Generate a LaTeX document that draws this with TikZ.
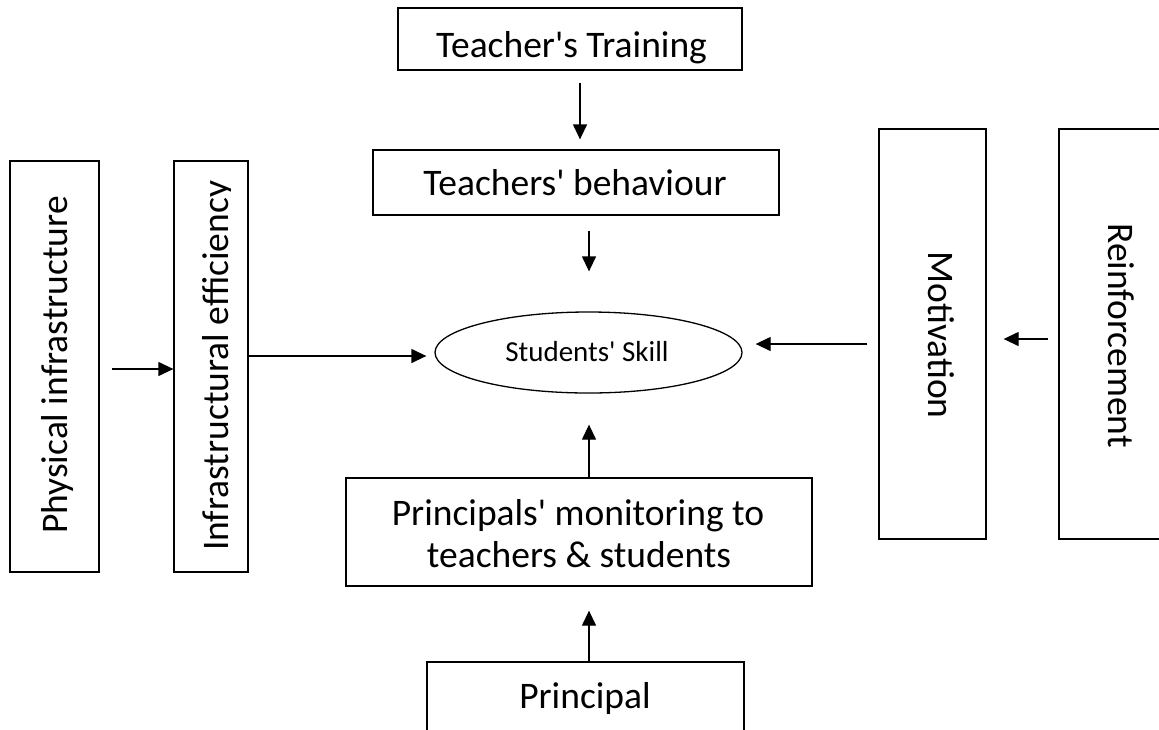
\documentclass[tikz,border=0pt]{standalone}
\usepackage{fontspec}
\setmainfont{Carlito}
\usetikzlibrary{arrows.meta,calc,shapes.geometric}
\begin{document}
\begin{tikzpicture}[x=1pt,y=-1pt,
  boxnode/.style={draw, line width=1.3pt, inner sep=0pt, minimum width=#1},
  txt/.style={anchor=base, inner sep=0pt, font=\fontsize{37.5}{40}\selectfont},
  smalltxt/.style={anchor=base, inner sep=0pt, font=\fontsize{29}{32}\selectfont},
  arr/.style={line width=1.3pt, -{Triangle[length=15pt,width=14pt]}}
]
\useasboundingbox (0,0) rectangle (1159,729);
\fill[white] (0,0) rectangle (1159,729);

% boxes
\node[boxnode=344pt, minimum height=62pt] (train) at (570,39) {};
\node[boxnode=406pt, minimum height=65pt] (behav) at (576,182.5) {};
\node[draw, line width=1.3pt, ellipse, inner sep=0pt, minimum width=307pt, minimum height=81pt] (skill) at (588.5,352.5) {};
\node[boxnode=89pt, minimum height=411pt] (phys) at (54.5,366.5) {};
\node[boxnode=74pt, minimum height=411pt] (infra) at (211,366.5) {};
\node[boxnode=107pt, minimum height=410pt] (motiv) at (932.5,334) {};
\node[boxnode=116pt, minimum height=410pt] (reinf) at (1117,334) {};
\node[boxnode=466pt, minimum height=108pt] (mon) at (579,532) {};
\node[boxnode=317pt, minimum height=98pt] (princ) at (585.5,711) {};

% texts
\node[txt] (ttrain) at (571.5,57) {Teacher\textquotesingle s Training};
\node[txt] (tbehav) at (575,195) {Teachers\textquotesingle\ behaviour};
\node[smalltxt] (tskill) at (587,361) {Students\textquotesingle\ Skill};
\node[txt, rotate=90] (tphys) at (67,365) {Physical infrastructure};
\begin{scope}
\clip (174,161) rectangle (230,572);
\node[txt, rotate=90] (tinfra) at (228.5,366) {Infrastructural efficiency};
\end{scope}
\node[txt, rotate=-90] (tmotiv) at (928,335) {Motivation};
\node[txt, rotate=-90] (treinf) at (1108,335.5) {Reinforcement};
\node[txt] (tmon1) at (578,525) {Principals\textquotesingle\ monitoring to};
\node[txt] (tmon2) at (579,567) {teachers \& students};
\node[txt] (tprinc) at (585,708) {Principal};

% connectors
\draw[arr, shorten <=12pt, shorten >=10pt] ([xshift=10pt]train.south) -- ([xshift=10pt]train.south |- behav.north);
\draw[arr, shorten <=15pt, shorten >=40pt] ([xshift=13pt]behav.south) -- ([xshift=13pt]behav.south |- skill.north);
\draw[arr, shorten >=31pt] ([xshift=10pt]mon.north) -- ([xshift=10pt]mon.north |- skill.south);
\draw[arr, shorten >=24pt] ([xshift=3.5pt]princ.north) -- ([xshift=3.5pt]princ.north |- mon.south);
\draw[arr, shorten <=12pt] ([yshift=-2.5pt]phys.east) -- ([yshift=-2.5pt]phys.east -| infra.west);
\draw[arr, shorten >=8pt] ([yshift=10.5pt]infra.east) -- ([yshift=10.5pt]infra.east -| skill.west);
\draw[arr, shorten <=11pt, shorten >=13pt] ([yshift=-10pt]motiv.west) -- ([yshift=-10pt]motiv.west -| skill.east);
\draw[arr, shorten <=10pt, shorten >=17pt] ([yshift=-5pt]reinf.west) -- ([yshift=-5pt]reinf.west -| motiv.east);
\end{tikzpicture}
\end{document}
